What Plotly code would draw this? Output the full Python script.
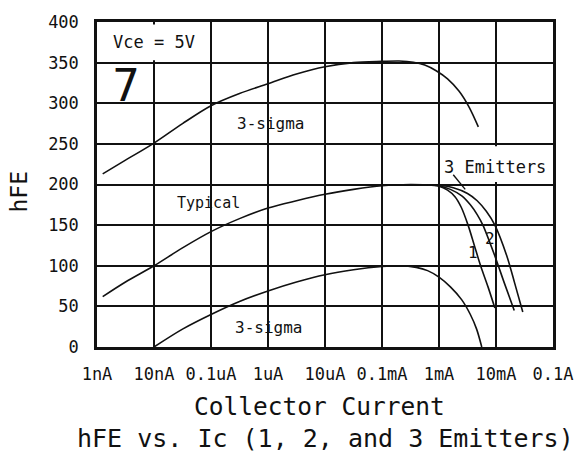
import plotly.graph_objects as go

# Collector current in log10(A); hFE values
sig_hi_x = [-8.9, -8.5, -8.0, -7.5, -7.0, -6.5, -6.0, -5.5, -5.0, -4.5, -4.0, -3.7, -3.45, -3.25, -3.05, -2.85, -2.65, -2.47, -2.31]
sig_hi_y = [213, 230, 251, 275, 297, 312, 324, 336, 345, 350, 351.5, 352, 350.5, 347, 340, 330, 315, 295, 271]

typ_x = [-8.9, -8.5, -8.0, -7.5, -7.0, -6.5, -6.0, -5.5, -5.0, -4.5, -4.0, -3.5, -3.2]
typ_y = [62, 80, 100, 122, 142, 158, 171, 180, 188, 194, 198.5, 200, 199.5]

sig_lo_x = [-8.0, -7.5, -7.0, -6.5, -6.0, -5.5, -5.0, -4.5, -4.0, -3.7, -3.4, -3.2, -3.0, -2.8, -2.6, -2.45, -2.34, -2.25]
sig_lo_y = [0, 22, 40, 56, 69, 80, 89, 95, 99, 100, 98, 94, 86, 74, 58, 40, 22, 0]

em1_x = [-3.2, -3.0, -2.85, -2.72, -2.61, -2.49, -2.38, -2.27, -2.14, -2.02]
em1_y = [199.5, 198, 193, 185, 172, 150, 125, 100, 74, 48]

em2_x = [-3.2, -3.0, -2.8, -2.6, -2.45, -2.33, -2.23, -2.02, -1.85, -1.68]
em2_y = [199.5, 198.5, 194, 186, 175, 163, 150, 112, 78, 45]

em3_x = [-3.2, -3.0, -2.75, -2.5, -2.33, -2.17, -2.02, -1.81, -1.67, -1.53]
em3_y = [199.5, 199, 196, 189, 180, 167, 150, 112, 78, 43]

leader_x = [-2.75, -2.54]
leader_y = [212, 194]

tick_vals = [1e-9, 1e-8, 1e-7, 1e-6, 1e-5, 1e-4, 1e-3, 1e-2, 1e-1]
tick_text = ["1nA", "10nA", "0.1uA", "1uA", "10uA", "0.1mA", "1mA", "10mA", "0.1A"]
y_ticks = [0, 50, 100, 150, 200, 250, 300, 350, 400]

MONO = "DejaVu Sans Mono"
INK = "#111111"

fig = go.Figure()


def curve(lx, y, width=1.6):
    fig.add_trace(go.Scatter(
        x=[10 ** v for v in lx], y=y, mode="lines",
        line=dict(color=INK, width=width, shape="spline", smoothing=0.9),
        hoverinfo="skip", showlegend=False,
    ))


for cx, cy in [(sig_hi_x, sig_hi_y), (typ_x, typ_y), (sig_lo_x, sig_lo_y),
               (em1_x, em1_y), (em2_x, em2_y), (em3_x, em3_y)]:
    curve(cx, cy)

fig.add_trace(go.Scatter(
    x=[10 ** v for v in leader_x], y=leader_y, mode="lines",
    line=dict(color=INK, width=1.4), hoverinfo="skip", showlegend=False,
))

# white label boxes that interrupt the grid
pad_x, pad_y = 0.045, 3
boxes = [
    (-9, -7, 350, 400),   # Vce = 5V
    (-3, -1, 200, 250),   # 3 Emitters
]
for x0, x1, y0, y1 in boxes:
    fig.add_shape(type="rect", xref="x", yref="y", layer="between",
                  x0=10 ** (x0 + pad_x), x1=10 ** (x1 - pad_x),
                  y0=y0 + pad_y, y1=y1 - pad_y,
                  fillcolor="white", line=dict(width=0))

labels = [
    ("Vce = 5V", -8.0, 375, 17),
    ("3-sigma", -5.96, 275, 16),
    ("Typical", -7.05, 177, 15),
    ("3-sigma", -6.0, 24, 16),
    ("3 Emitters", -2.01, 222, 17),
    ("1", -2.41, 116, 16),
    ("2", -2.11, 133, 16),
]
annotations = []
for txt, lx, ly, sz in labels:
    annotations.append(dict(text=txt, x=lx, y=ly, xref="x", yref="y",
                            showarrow=False, xanchor="center", yanchor="middle",
                            font=dict(family=MONO, size=sz, color=INK)))
annotations.append(dict(text="7", x=-8.49, y=322, xref="x", yref="y",
                        showarrow=False, xanchor="center", yanchor="middle",
                        font=dict(family="DejaVu Sans", size=44, color=INK)))
annotations.append(dict(text="hFE", x=-0.172, y=0.477, xref="paper", yref="paper",
                        textangle=-90, showarrow=False, xanchor="center", yanchor="middle",
                        font=dict(family=MONO, size=23, color=INK)))
annotations.append(dict(text="Collector Current", x=0.489, y=-0.182, xref="paper", yref="paper",
                        showarrow=False, xanchor="center", yanchor="middle",
                        font=dict(family=MONO, size=24.5, color=INK)))
annotations.append(dict(text="hFE vs. Ic (1, 2, and 3 Emitters)", x=0.5, y=-0.282,
                        xref="paper", yref="paper", showarrow=False,
                        xanchor="center", yanchor="middle",
                        font=dict(family=MONO, size=25, color=INK)))

fig.update_layout(
    width=585, height=462,
    margin=dict(l=97, r=32, t=17, b=115),
    paper_bgcolor="white", plot_bgcolor="white",
    annotations=annotations,
    showlegend=False,
)
fig.update_xaxes(
    type="log", range=[-9, -1], tickvals=tick_vals, ticktext=tick_text,
    showgrid=True, gridcolor=INK, gridwidth=2,
    showline=True, linecolor=INK, linewidth=2.5, mirror=True,
    ticks="", ticklabelstandoff=10, zeroline=False,
    tickfont=dict(family=MONO, size=17, color=INK),
)
fig.update_yaxes(
    range=[0, 400], tickvals=y_ticks,
    showgrid=True, gridcolor=INK, gridwidth=2,
    showline=True, linecolor=INK, linewidth=2.5, mirror=True,
    ticks="", ticklabelstandoff=12, zeroline=False,
    tickfont=dict(family=MONO, size=17, color=INK),
)

fig.write_html("out.html")
